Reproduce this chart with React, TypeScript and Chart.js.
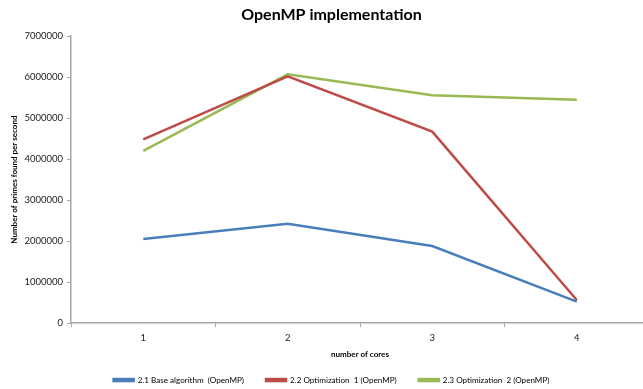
import { useEffect, useRef } from 'react';
import { Chart, registerables } from 'chart.js';

Chart.register(...registerables);

const categories = ['1', '2', '3', '4'];
const baseAlgorithm = [2050000, 2420000, 1880000, 520000];
const optimization1 = [4480000, 6020000, 4670000, 560000];
const optimization2 = [4200000, 6070000, 5560000, 5450000];
const seriesNames = [
  '2.1 Base algorithm  (OpenMP)',
  '2.2 Optimization  1 (OpenMP)',
  '2.3 Optimization  2 (OpenMP)',
];
const yMin = 0;
const yMax = 7000000;
const yStep = 1000000;

const FONT = 'Lato, "Liberation Sans", sans-serif';
const AXIS = '#a6a6a6';

export default function App() {
  const ref = useRef<HTMLCanvasElement>(null);
  useEffect(() => {
    const colors = ['#4A7EBB', '#BE4B48', '#98B954'];
    const values = [baseAlgorithm, optimization1, optimization2];
    const chart = new Chart(ref.current!, {
      type: 'line',
      data: {
        labels: categories,
        datasets: values.map((v, i) => ({
          label: seriesNames[i],
          data: v,
          borderColor: colors[i],
          backgroundColor: colors[i],
          borderWidth: 2.5,
          pointRadius: 0,
          tension: 0,
        })),
      },
      options: {
        animation: false,
        responsive: false,
        layout: { padding: { left: 14, right: 11, top: 0, bottom: 0 } },
        plugins: {
          title: {
            display: true,
            text: 'OpenMP implementation',
            color: '#000',
            font: { family: FONT, size: 16, weight: 'bold' },
            padding: { top: 5, bottom: 12 },
          },
          legend: {
            position: 'bottom',
            maxHeight: 35,
            labels: {
              color: '#000',
              font: { family: FONT, size: 8.1 },
              boxWidth: 20,
              boxHeight: 2,
              padding: 22,
            },
          },
          tooltip: { enabled: false },
        },
        scales: {
          x: {
            offset: true,
            grid: { offset: true, drawOnChartArea: false, tickLength: 4, color: AXIS },
            border: { color: AXIS, width: 1.5 },
            ticks: { color: '#222', font: { family: FONT, size: 9.5 }, padding: 5 },
            title: {
              display: true,
              text: 'number of cores',
              color: '#000',
              font: { family: FONT, size: 8, weight: 'bold' },
              padding: { top: 1, bottom: -5 },
            },
          },
          y: {
            min: yMin,
            max: yMax,
            grid: { drawOnChartArea: false, tickLength: 4, color: AXIS },
            border: { color: AXIS, width: 1.5 },
            ticks: {
              stepSize: yStep,
              color: '#222',
              font: { family: FONT, size: 9.5 },
              padding: 4,
              callback: (v: any) => String(v),
            },
            title: {
              display: true,
              text: 'Number of primes found per second',
              color: '#000',
              font: { family: FONT, size: 8, weight: 'bold' },
              padding: { top: -4, bottom: 0 },
            },
            afterFit: (s: any) => {
              s.width = 57;
            },
          },
        },
      },
    });
    return () => chart.destroy();
  }, []);
  return (
    <div style={{ position: 'fixed', left: 0, top: 0, width: 660, height: 389, background: '#fff' }}>
      <canvas ref={ref} width={660} height={389} />
    </div>
  );
}
